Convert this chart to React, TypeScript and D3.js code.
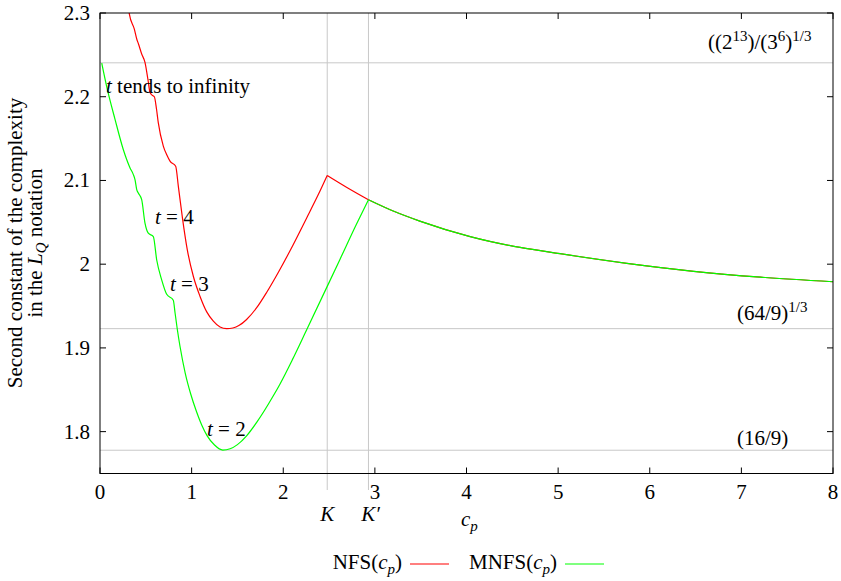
import React from "react";
import * as d3 from "d3";

// ---- data ----
const xTicks = [0, 1, 2, 3, 4, 5, 6, 7, 8];
const yTicks = [1.8, 1.9, 2, 2.1, 2.2, 2.3];
const yTickLabels = ["1.8", "1.9", "2", "2.1", "2.2", "2.3"];

const K = 2.48;
const Kprime = 2.93;
const refLevels = [2.2405, 1.923, 1.7778];

const nfsCp = [
  0.3, 0.32, 0.374, 0.401, 0.42, 0.455, 0.491, 0.524, 0.546, 0.568, 0.593, 0.617, 0.636, 0.691,
  0.731, 0.764, 0.826, 0.855, 0.9, 0.953, 1.02, 1.092, 1.165, 1.237, 1.31, 1.383, 1.45, 1.52,
  1.6, 1.71, 1.82, 1.95, 2.074, 2.257, 2.38, 2.48, 2.69, 2.93, 3.2, 3.49, 4.04, 4.585, 5.02, 5.75,
  6.48, 7.21, 8,
];
const nfsVal = [
  2.325, 2.299, 2.281, 2.269, 2.263, 2.251, 2.241, 2.22, 2.205, 2.202, 2.2, 2.185, 2.169, 2.141,
  2.13, 2.123, 2.117, 2.093, 2.055, 2.017, 1.985, 1.9615, 1.943, 1.932, 1.925, 1.923, 1.9238, 1.927,
  1.934, 1.948, 1.9665, 1.991, 2.016, 2.0555, 2.0825, 2.106, 2.092, 2.077, 2.0635, 2.0515, 2.033,
  2.02, 2.0125, 2.001, 1.9915, 1.9845, 1.979,
];

const mnfsCp = [
  0.019, 0.073, 0.164, 0.254, 0.328, 0.364, 0.382, 0.401, 0.418, 0.455, 0.491, 0.527, 0.582,
  0.619, 0.674, 0.728, 0.8, 0.819, 0.844, 0.873, 0.93, 0.99, 1.05, 1.11, 1.17, 1.25, 1.34, 1.42,
  1.5, 1.6, 1.71, 1.89, 1.965, 2.1, 2.257, 2.48, 2.62, 2.8, 2.93, 3.2, 3.49, 4.04, 4.585, 5.02,
  5.75, 6.48, 7.21, 8,
];
const mnfsVal = [
  2.24, 2.212, 2.173, 2.137, 2.115, 2.107, 2.101, 2.089, 2.085, 2.077, 2.049, 2.037, 2.033,
  2.005, 1.981, 1.964, 1.957, 1.942, 1.922, 1.902, 1.87, 1.845, 1.825, 1.808, 1.795, 1.784, 1.778,
  1.7795, 1.7845, 1.795, 1.811, 1.8425, 1.857, 1.886, 1.922, 1.9735, 2.006, 2.048, 2.077, 2.0635,
  2.0515, 2.033, 2.02, 2.0125, 2.001, 1.9915, 1.9845, 1.979,
];

// ---- layout ----
const W = 841;
const H = 581;
const L = 100;
const R = 833;
const T = 13;
const B = 473.5;
const FONT = "'Liberation Serif', 'Times New Roman', serif";

const x = d3.scaleLinear().domain([0, 8]).range([L, R]);
const y = d3.scaleLinear().domain([1.75, 2.3]).range([B, T]);

function pathSplit(xs: number[], ys: number[], breaks: number[]) {
  const pts = xs.map((v, i) => [v, ys[i]] as [number, number]);
  const line = d3
    .line<[number, number]>()
    .x((d) => x(d[0]))
    .y((d) => y(d[1]))
    .curve(d3.curveMonotoneX);
  const segs: [number, number][][] = [];
  let cur: [number, number][] = [];
  pts.forEach((p) => {
    cur.push(p);
    if (breaks.some((b) => Math.abs(b - p[0]) < 1e-9)) {
      segs.push(cur);
      cur = [p];
    }
  });
  if (cur.length > 1) segs.push(cur);
  return segs.map((s) => line(s) || "").join(" ");
}

export default function App() {
  const nfsPath = pathSplit(nfsCp, nfsVal, [K, Kprime]);
  const mnfsPath = pathSplit(mnfsCp, mnfsVal, [Kprime]);
  const grid = "#c8c8c8";
  const fs = 21;
  const sub = 15;
  return (
    <svg
      width={W}
      height={H}
      style={{ position: "absolute", left: 0, top: 0, background: "#fff" }}
      fontFamily={FONT}
      fontSize={fs}
    >
      <defs>
        <clipPath id="plot">
          <rect x={L} y={T} width={R - L} height={B - T} />
        </clipPath>
      </defs>
      <rect x={0} y={0} width={W} height={H} fill="#fff" />

      {/* reference lines */}
      {refLevels.map((v, i) => (
        <line key={"h" + i} x1={L} x2={R} y1={y(v)} y2={y(v)} stroke={grid} strokeWidth={1} />
      ))}
      {[K, Kprime].map((v, i) => (
        <line key={"v" + i} x1={x(v)} x2={x(v)} y1={T} y2={490} stroke={grid} strokeWidth={1} />
      ))}

      {/* curves */}
      <g clipPath="url(#plot)" fill="none" strokeWidth={1.2}>
        <path d={nfsPath} stroke="#ff0000" />
        <path d={mnfsPath} stroke="#00ff00" />
      </g>

      {/* border */}
      <rect x={L} y={T} width={R - L} height={B - T} fill="none" stroke="#000" strokeWidth={1} />

      {/* ticks */}
      {xTicks.map((t) => (
        <g key={"xt" + t}>
          <line x1={x(t)} x2={x(t)} y1={B} y2={B - 6} stroke="#000" />
          <line x1={x(t)} x2={x(t)} y1={T} y2={T + 6} stroke="#000" />
          <text x={x(t)} y={499} textAnchor="middle">
            {t}
          </text>
        </g>
      ))}
      {yTicks.map((t, i) => (
        <g key={"yt" + t}>
          <line x1={L} x2={L + 6} y1={y(t)} y2={y(t)} stroke="#000" />
          <line x1={R} x2={R - 6} y1={y(t)} y2={y(t)} stroke="#000" />
          <text x={90} y={y(t) + 7} textAnchor="end">
            {yTickLabels[i]}
          </text>
        </g>
      ))}

      {/* K labels */}
      <text x={x(K)} y={521} textAnchor="middle" fontStyle="italic">
        K
      </text>
      <text x={x(Kprime) + 2} y={521} textAnchor="middle" fontStyle="italic">
        K′
      </text>

      {/* x axis label */}
      <text x={461} y={526}>
        <tspan fontStyle="italic">c</tspan>
        <tspan fontStyle="italic" fontSize={sub} dy={5}>
          p
        </tspan>
      </text>

      {/* y axis label */}
      <g transform="translate(22,243) rotate(-90)">
        <text x={0} y={0} textAnchor="middle">
          Second constant of the complexity
        </text>
      </g>
      <g transform="translate(42,243) rotate(-90)">
        <text x={0} y={0} textAnchor="middle">
          <tspan>in the </tspan>
          <tspan fontStyle="italic">L</tspan>
          <tspan fontStyle="italic" fontSize={sub} dy={4}>
            Q
          </tspan>
          <tspan dy={-4}> notation</tspan>
        </text>
      </g>

      {/* reference labels */}
      <text x={708} y={49}>
        <tspan>((2</tspan>
        <tspan fontSize={sub} dy={-8}>
          13
        </tspan>
        <tspan dy={8}>)/(3</tspan>
        <tspan fontSize={sub} dy={-8}>
          6
        </tspan>
        <tspan dy={8}>)</tspan>
        <tspan fontSize={sub} dy={-8}>
          1/3
        </tspan>
      </text>
      <text x={737} y={320}>
        <tspan>(64/9)</tspan>
        <tspan fontSize={sub} dy={-8}>
          1/3
        </tspan>
      </text>
      <text x={737} y={445}>
        (16/9)
      </text>

      {/* t labels */}
      <text x={106} y={93}>
        <tspan fontStyle="italic">t</tspan> tends to infinity
      </text>
      <text x={155} y={224}>
        <tspan fontStyle="italic">t</tspan> = 4
      </text>
      <text x={170} y={291}>
        <tspan fontStyle="italic">t</tspan> = 3
      </text>
      <text x={207} y={436}>
        <tspan fontStyle="italic">t</tspan> = 2
      </text>

      {/* legend */}
      <text x={402} y={569} textAnchor="end">
        <tspan>NFS(</tspan>
        <tspan fontStyle="italic">c</tspan>
        <tspan fontStyle="italic" fontSize={sub} dy={5}>
          p
        </tspan>
        <tspan dy={-5}>)</tspan>
      </text>
      <line x1={410} x2={449} y1={564} y2={564} stroke="#ff0000" strokeWidth={1.2} />
      <text x={557} y={569} textAnchor="end">
        <tspan>MNFS(</tspan>
        <tspan fontStyle="italic">c</tspan>
        <tspan fontStyle="italic" fontSize={sub} dy={5}>
          p
        </tspan>
        <tspan dy={-5}>)</tspan>
      </text>
      <line x1={565} x2={604} y1={564} y2={564} stroke="#00ff00" strokeWidth={1.2} />
    </svg>
  );
}
